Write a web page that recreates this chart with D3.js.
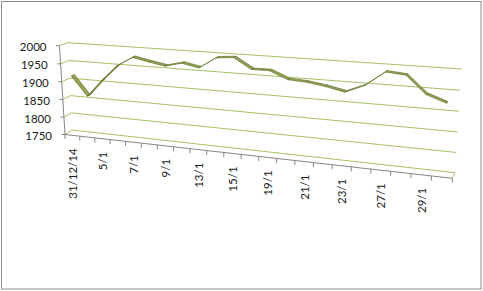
<!DOCTYPE html>
<html><head><meta charset="utf-8">
<script src="https://cdn.jsdelivr.net/npm/d3@7"></script>
<style>body{margin:0;background:#fff}</style>
</head><body>
<svg id="c" width="483" height="291"></svg>
<script>
// ---- data ----
const categories = ["31/12/14","2/1","5/1","6/1","7/1","8/1","9/1","12/1","13/1","14/1","15/1","16/1","19/1","20/1","21/1","22/1","23/1","26/1","27/1","28/1","29/1","30/1"];
const values = [1915,1862,1910,1953,1979,1970,1962,1973,1964,1993,1997,1970,1970,1951,1948,1941,1931,1951,1987,1983,1941,1924];
const yTicks = [1750,1800,1850,1900,1950,2000];
const labelStep = 2;

// ---- scales ----
const xBand = d3.scaleBand().domain(categories).range([0,1]).paddingInner(0).paddingOuter(0);
const yLin = d3.scaleLinear().domain([1750,2000]).range([0,1]);
const xc = c => xBand(c) + xBand.bandwidth()/2;

// ---- 3D perspective projection (unit box -> screen) ----
function sq2quad(q){ // corners for (0,0),(1,0),(1,1),(0,1)
  const [x0,y0]=q[0],[x1,y1]=q[1],[x2,y2]=q[2],[x3,y3]=q[3];
  const dx1=x1-x2, dx2=x3-x2, dx3=x0-x1+x2-x3;
  const dy1=y1-y2, dy2=y3-y2, dy3=y0-y1+y2-y3;
  const den=dx1*dy2-dx2*dy1;
  const g=(dx3*dy2-dx2*dy3)/den, h=(dx1*dy3-dx3*dy1)/den;
  const a=x1-x0+g*x1, b=x3-x0+h*x3, c=x0;
  const d=y1-y0+g*y1, e=y3-y0+h*y3, f=y0;
  return (u,v)=>{const w=g*u+h*v+1;return [(a*u+b*v+c)/w,(d*u+e*v+f)/w];};
}
const Hf = sq2quad([[65,134.5],[452.3,178.3],[458.5,72.7],[59.5,45.7]]);
const Hb = sq2quad([[72,130],[455,172.7],[461.7,69],[68,42.7]]);
function P(u,v,z){const a=Hf(u,v),b=Hb(u,v);return [a[0]+(b[0]-a[0])*z,a[1]+(b[1]-a[1])*z];}

const svg = d3.select("#c");
const line = d3.line();

// border
svg.append("rect").attr("x",1.5).attr("y",1.5).attr("width",479.5).attr("height",287.5)
  .attr("fill","#fff").attr("stroke","#8c8c8c").attr("stroke-width",1);

// gridlines (side wall + back wall)
svg.append("g").selectAll("path").data(yTicks).join("path")
  .attr("d", t => line([P(0,yLin(t),0),P(0,yLin(t),1),P(1,yLin(t),1)]))
  .attr("fill","none").attr("stroke","#a4c366").attr("stroke-width",1);
// floor right edge
svg.append("path").attr("d", line([P(1,0,1),P(1,0,0)]))
  .attr("fill","none").attr("stroke","#a4c366").attr("stroke-width",1);

// left value axis
svg.append("path").attr("d", line([P(0,0,0),P(0,1,0)]))
  .attr("fill","none").attr("stroke","#868686").attr("stroke-width",1);
svg.append("g").selectAll("path").data(yTicks).join("path")
  .attr("d", t => {const p=P(0,yLin(t),0);return line([[p[0]-3.5,p[1]],p]);})
  .attr("fill","none").attr("stroke","#868686").attr("stroke-width",1);
svg.append("g").selectAll("text").data(yTicks).join("text")
  .attr("x", t => P(0,yLin(t),0)[0]-13)
  .attr("y", t => P(0,yLin(t),0)[1]+1)
  .attr("text-anchor","end").attr("dominant-baseline","central")
  .attr("font-family","Lato").attr("font-size",11.5).attr("fill","#1a1a1a")
  .text(t => t);

// bottom category axis
svg.append("path").attr("d", line([P(0,0,0),P(1,0,0)]))
  .attr("fill","none").attr("stroke","#868686").attr("stroke-width",1);
const bounds = d3.range(categories.length+1).map(k => k/categories.length);
svg.append("g").selectAll("path").data(bounds).join("path")
  .attr("d", u => {const p=P(u,0,0);return line([p,[p[0],p[1]+4.5]]);})
  .attr("fill","none").attr("stroke","#868686").attr("stroke-width",1);
svg.append("g").selectAll("text").data(categories.filter((c,i)=>i%labelStep===0)).join("text")
  .attr("transform", c => {const p=P(xc(c),0,0);return `translate(${p[0]},${p[1]+13}) rotate(-90)`;})
  .attr("text-anchor","end").attr("dominant-baseline","central")
  .attr("font-family","Lato").attr("font-size",11.5).attr("fill","#1a1a1a")
  .text(c => c);

// ribbon series
const z1=0.3, z2=0.7;
const segs = d3.range(categories.length-1).map(i => {
  const u0=xc(categories[i]), u1=xc(categories[i+1]);
  const v0=yLin(values[i]), v1=yLin(values[i+1]);
  const A1=P(u0,v0,z1),B1=P(u1,v1,z1),B2=P(u1,v1,z2),A2=P(u0,v0,z2);
  const cross=(B1[0]-A1[0])*(A2[1]-A1[1])-(B1[1]-A1[1])*(A2[0]-A1[0]);
  return {pts:[A1,B1,B2,A2], top: cross<0};
});
svg.append("g").selectAll("path").data(segs).join("path")
  .attr("d", s => line(s.pts)+"Z")
  .attr("fill", s => s.top ? "#93a257" : "#6e7d38")
  .attr("stroke", "#66752f").attr("stroke-width",0.7).attr("stroke-linejoin","round");
</script>
</body></html>
